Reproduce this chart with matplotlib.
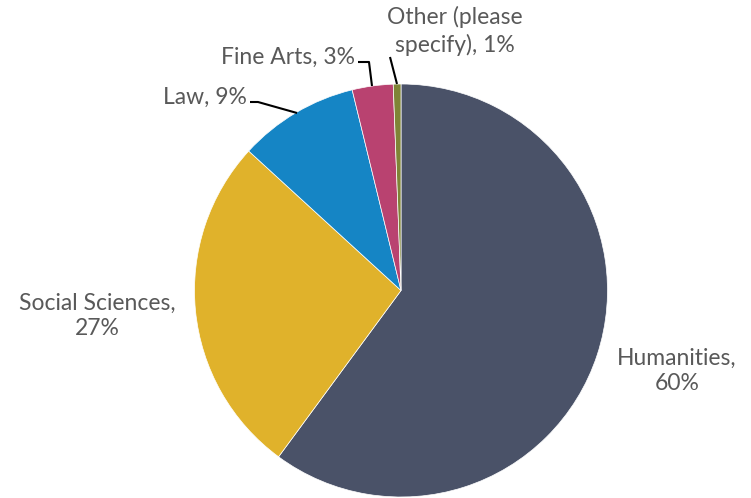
import matplotlib
matplotlib.use("Agg")
import matplotlib.pyplot as plt
import numpy as np

categories = ["Humanities", "Social Sciences", "Law", "Fine Arts", "Other (please specify)"]
values = [60.1, 26.7, 9.4, 3.2, 0.6]
label_texts = ["Humanities,\n60%", "Social Sciences,\n27%", "Law, 9%", "Fine Arts, 3%", "Other (please\nspecify), 1%"]
colors = ["#4a5268", "#e0b22b", "#1585c5", "#b94270", "#7f8436"]

plt.rcParams['font.family'] = ['Lato', 'DejaVu Sans']

W, H = 751, 498
fig = plt.figure(figsize=(W/100, H/100), dpi=100)
ax = fig.add_axes([0, 0, 1, 1])
R = 206.5
cx, cy = 401, 290.5

ax.pie(values, colors=colors, startangle=90, counterclock=False, radius=1,
       wedgeprops=dict(edgecolor='white', linewidth=0.5))
ax.set_aspect('auto')
ax.set_xlim(-cx/R, (W-cx)/R)
ax.set_ylim((cy-H)/R, cy/R)
ax.axis('off')

def p(px, py):
    return ((px-cx)/R, (cy-py)/R)

tc = "#595959"
fs = 16.5
ls = 1.28
ax.text(*p(677, 371), label_texts[0], ha='center', va='center', fontsize=fs, color=tc, linespacing=ls)
ax.text(*p(97, 316), label_texts[1], ha='center', va='center', fontsize=fs, color=tc, linespacing=ls)
ax.text(*p(247, 97), label_texts[2], ha='right', va='center', fontsize=fs, color=tc)
ax.text(*p(355, 57), label_texts[3], ha='right', va='center', fontsize=fs, color=tc)
ax.text(*p(455, 31), label_texts[4], ha='center', va='center', fontsize=fs, color=tc, linespacing=ls)

def leader(pts):
    xy = np.array([p(*q) for q in pts])
    ax.plot(xy[:, 0], xy[:, 1], color='black', lw=1.5, solid_capstyle='butt')

leader([(250, 102), (258, 102), (297, 113)])
leader([(358, 62), (369, 62), (372, 86)])
leader([(390, 57), (397, 84)])

fig.savefig("out.png", dpi=100)
